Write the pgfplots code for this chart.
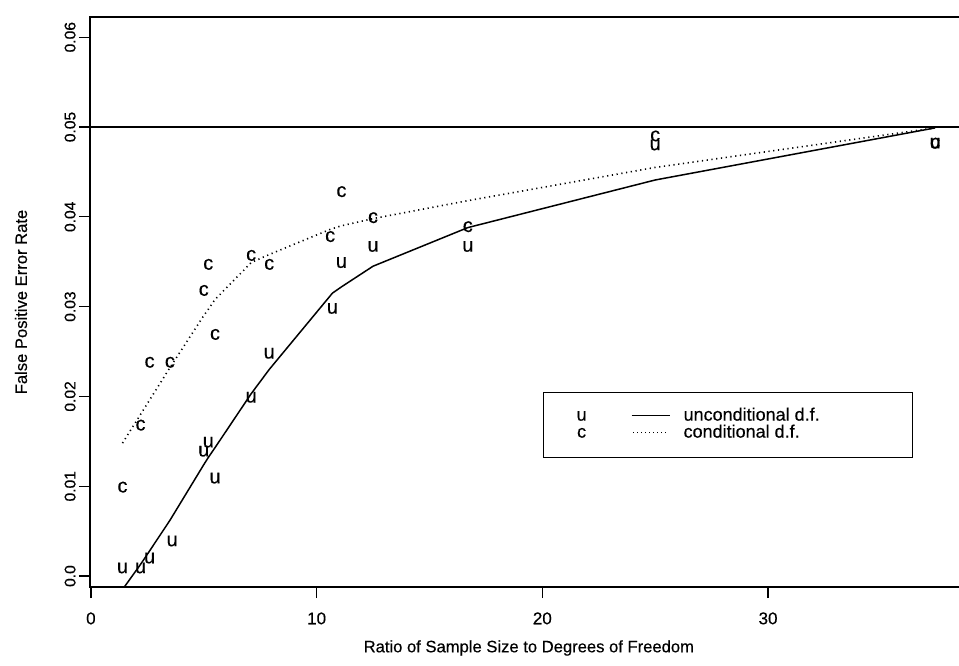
\documentclass[border=0pt]{standalone}
\usepackage{pgfplots}
\pgfplotsset{compat=1.18}
\usepackage{fontspec}
\setmainfont{Liberation Sans}[FakeBold=0.35]
\pgfplotstableread{
x y
1.4 0.0009
2.2 0.0009
2.6 0.0020
3.6 0.0039
5.0 0.0139
5.2 0.0149
5.5 0.0109
7.1 0.0199
7.9 0.0248
10.7 0.0298
11.1 0.0349
12.5 0.0367
16.7 0.0367
25.0 0.0480
37.4 0.0482
}\upts
\pgfplotstableread{
x y
1.4 0.0099
2.2 0.0168
2.6 0.0238
3.5 0.0238
5.0 0.0318
5.2 0.0347
5.5 0.0269
7.1 0.0357
7.9 0.0347
10.6 0.0378
11.1 0.0428
12.5 0.0399
16.7 0.0389
25.0 0.0490
37.4 0.0482
}\cpts
\pgfplotstableread{
x y
1.4 -0.0015
2.2 0.0013
2.6 0.0028
3.5 0.0062
5.0 0.0124
5.2 0.0132
5.5 0.0143
7.1 0.0203
7.9 0.0230
10.7 0.0315
11.1 0.0322
12.5 0.0345
16.7 0.0388
25.0 0.0441
37.4 0.0499
}\uline
\pgfplotstableread{
x y
1.4 0.0148
2.2 0.0180
2.6 0.0196
3.5 0.0232
5.0 0.0290
5.2 0.0297
5.5 0.0308
7.1 0.0349
7.9 0.0358
10.6 0.0386
11.1 0.0390
12.5 0.0398
16.7 0.0418
25.0 0.0455
37.4 0.0499
}\cline
\begin{document}
\begin{tikzpicture}
\begin{axis}[
  name=ax, at={(0,0)}, anchor=south west,
  scale only axis, width=434.5pt, height=285pt,
  xmin=-0.04, xmax=38.46, ymin=-0.00122, ymax=0.06225,
  axis line style={draw=none},
  xtick={0,10,20,30},
  ytick={0,0.01,0.02,0.03,0.04,0.05,0.06},
  yticklabels={0.0,0.01,0.02,0.03,0.04,0.05,0.06},
  scaled y ticks=false,
  tick pos=left, tick align=outside,
  major tick length=5.5pt,
  tick style={black, line width=0.6pt},
  /pgf/number format/assume math mode=true,
  xticklabel style={font=\fontsize{8.5}{10}\selectfont, inner sep=0pt, anchor=north},
  yticklabel style={font=\fontsize{7.8}{9}\selectfont, inner sep=0pt, rotate=90, anchor=south},
  xticklabel shift=7pt, yticklabel shift=1.5pt,
  xlabel={Ratio of Sample Size to Degrees of Freedom},
  ylabel={False Positive Error Rate},
  every axis x label/.style={at={([yshift=-30.5pt]rel axis cs:0.505,0)}, anchor=center, font=\fontsize{8.3}{10}\selectfont},
  every axis y label/.style={at={([xshift=-34.5pt]rel axis cs:0,0.5)}, anchor=center, rotate=90, font=\fontsize{8.3}{10}\selectfont},
  legend style={at={(axis cs:20.03,0.02049)}, anchor=north west, draw=black, line width=0.6pt,
    inner xsep=0pt, inner ysep=7.75pt, font=\fontsize{9}{10}\selectfont,
    nodes={inner sep=0pt, text height=6.25pt, text depth=2.25pt}, cells={anchor=west}},
]
\addplot[forget plot, black, line width=0.7pt] coordinates {(-0.04,0.05) (38.46,0.05)};
\addplot[forget plot, only marks, mark=text, text mark={u}, text mark as node=true,
  text mark style={font=\fontsize{10}{12}\selectfont, inner sep=0pt, anchor=center}] table[x=x,y=y] {\upts};
\addplot[forget plot, only marks, mark=text, text mark={c}, text mark as node=true,
  text mark style={font=\fontsize{10}{12}\selectfont, inner sep=0pt, anchor=center}] table[x=x,y=y] {\cpts};
\addplot[forget plot, black, line width=0.75pt] table[x=x,y=y] {\uline};
\addplot[forget plot, black, line width=0.8pt, dash pattern=on 0.6pt off 1.8pt] table[x=x,y=y] {\cline};
\addlegendimage{empty legend}
\addlegendentry{\makebox[184.5pt][l]{\makebox[38pt]{u}\hspace{6pt}\rule[2.2pt]{19pt}{0.7pt}\hspace{7pt}unconditional d.f.}}
\addlegendimage{empty legend}
\addlegendentry{\makebox[184.5pt][l]{\makebox[38pt]{c}\hspace{6pt}\raisebox{2.2pt}{\hbox to 19pt{\leaders\hbox to 2pt{\hss\rule{0.6pt}{0.6pt}\hss}\hfill}}\hspace{7pt}conditional d.f.}}
\end{axis}
\draw[line width=0.7pt] (ax.north east) -- (ax.north west) -- (ax.south west) -- (ax.south east);
\pgfresetboundingbox
\path[use as bounding box] (-45pt,-39pt) rectangle (434.5pt,293.5pt);
\end{tikzpicture}
\end{document}
